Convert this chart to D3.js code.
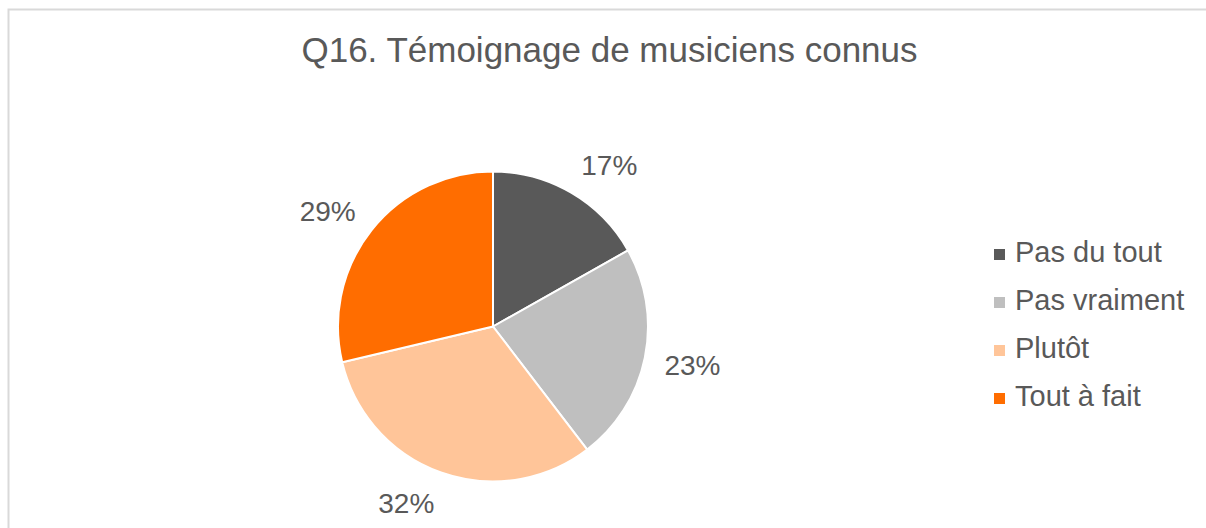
<!DOCTYPE html>
<html>
<head>
<meta charset="utf-8">
<script src="https://cdn.jsdelivr.net/npm/d3@7"></script>
<style>
  html, body { margin: 0; padding: 0; background: #fff; }
  svg { display: block; font-family: "Liberation Sans", Arial, sans-serif; }
</style>
</head>
<body>
<svg id="chart" width="1206" height="528"></svg>
<script>
// Survey answers for Q16 (percent of respondents)
const categories = ["Pas du tout", "Pas vraiment", "Plutôt", "Tout à fait"];
const values = [17, 23, 32, 29];
const colors = ["#595959", "#bfbfbf", "#ffc599", "#ff6d00"];
const title = "Q16. Témoignage de musiciens connus";

const svg = d3.select("#chart");
const W = 1206, H = 528;
const textColor = "#595959";

// chart frame (runs past the right and bottom edges)
svg.append("rect")
  .attr("x", 8.5).attr("y", 9.5)
  .attr("width", W + 20).attr("height", H + 20)
  .attr("fill", "#fff")
  .attr("stroke", "#d9d9d9")
  .attr("stroke-width", 2);

svg.append("text")
  .attr("x", 609.5).attr("y", 62)
  .attr("text-anchor", "middle")
  .attr("font-size", 35)
  .attr("fill", textColor)
  .text(title);

const cx = 493, cy = 326.5, r = 155;
const g = svg.append("g").attr("transform", `translate(${cx},${cy})`);

const pie = d3.pie().sort(null).value(d => d);
const arcs = pie(values);
const arc = d3.arc().innerRadius(0).outerRadius(r);

g.selectAll("path.slice")
  .data(arcs)
  .join("path")
  .attr("class", "slice")
  .attr("d", arc)
  .attr("fill", (d, i) => colors[i])
  .attr("stroke", "#fff")
  .attr("stroke-width", 2)
  .attr("stroke-linejoin", "round");

// outside-end data labels: box edge sits a small gap beyond the rim
const fontSize = 28, gap = 20, halfH = 11;
g.selectAll("text.lbl")
  .data(arcs)
  .join("text")
  .attr("class", "lbl")
  .attr("font-size", fontSize)
  .attr("fill", textColor)
  .attr("text-anchor", "middle")
  .text(d => d.data + "%")
  .each(function (d) {
    const a = (d.startAngle + d.endAngle) / 2;
    const ux = Math.sin(a), uy = -Math.cos(a);
    const w = this.getComputedTextLength();
    const px = (r + gap) * ux, py = (r + gap) * uy;
    const fx = Math.max(-1, Math.min(1, ux * 3));
    const fy = Math.max(-1, Math.min(1, uy * 1.2));
    const x = px + fx * w / 2;
    const y = py + fy * halfH;
    d3.select(this).attr("x", x).attr("y", y + halfH);
  });

// legend
const legend = svg.append("g").attr("transform", "translate(994,0)");
const rowY = d3.scaleBand().domain(categories).range([238, 430]);
const items = legend.selectAll("g")
  .data(categories)
  .join("g")
  .attr("transform", d => `translate(0,${rowY(d) + rowY.bandwidth() / 2})`);
items.append("rect")
  .attr("x", 0).attr("y", -13)
  .attr("width", 11).attr("height", 11)
  .attr("fill", (d, i) => colors[i]);
items.append("text")
  .attr("x", 21).attr("y", 0)
  .attr("font-size", 29)
  .attr("fill", textColor)
  .text(d => d);
</script>
</body>
</html>
